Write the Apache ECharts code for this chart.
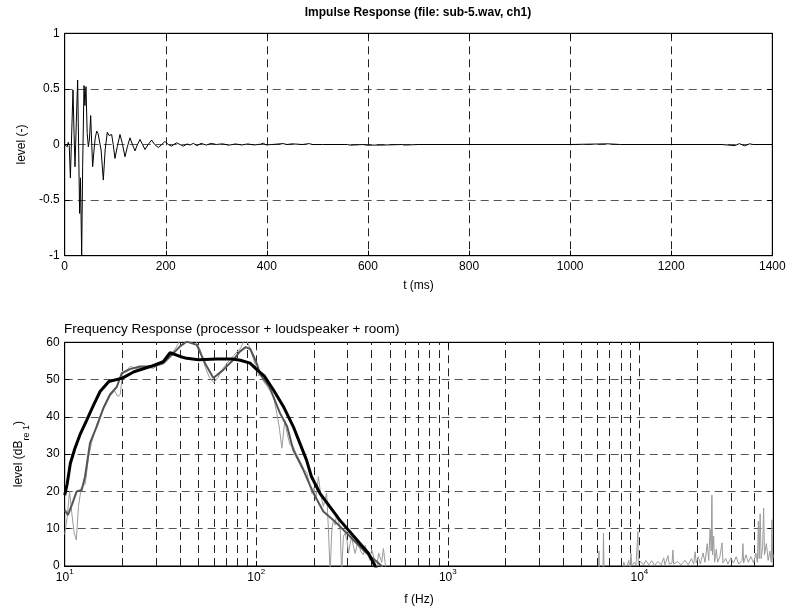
<!DOCTYPE html>
<html>
<head>
<meta charset="utf-8">
<script src="https://cdn.jsdelivr.net/npm/echarts@6/dist/echarts.min.js"></script>
<style>
html, body { margin: 0; padding: 0; background: #fff; }
#chart { width: 790px; height: 612px; }
</style>
</head>
<body>
<div id="chart"></div>
<script>
// impulse response (ms, level)
const impulseT = [
	0, 3, 5, 7, 9, 11.2, 13.5, 16.4, 18.5, 20.4,
	23, 25.6, 27.5, 29.5, 31.2, 33.6, 35.5, 38.2, 40, 42.1,
	44.5, 46.8, 49, 51.4, 53.5, 55.3, 58, 60.5, 63.3, 66,
	68.5, 72, 76.4, 80, 84.3, 88, 92.9, 96, 99.5, 104,
	109.4, 114, 119.3, 124, 129.2, 134, 139.1, 144, 149, 154,
	158.9, 165, 172, 178, 185.2, 192, 198.4, 205, 211.7, 216,
	221.6, 228, 234.7, 242, 248, 254.5, 262, 270, 280, 290,
	300, 312, 325, 338, 350, 362, 375, 388, 393, 398,
	410, 432, 440, 450, 470, 484, 490, 510, 560, 565,
	590, 598, 630, 668, 672, 700, 800, 1000, 1075, 1100,
	1300, 1326, 1335, 1345, 1355, 1362, 1400
];
const impulseLevel = [
	0, 0.01, -0.02, 0.02, -0.01, -0.30, 0.05, 0.49, 0.1, -0.20,
	0.2, 0.58, 0.0, -0.62, -0.3, -1.0, -0.2, 0.53, 0.35, 0.52,
	0.1, -0.02, 0.05, 0.26, 0.0, -0.2, -0.05, 0.06, 0.12, 0.1,
	0.11, -0.05, -0.32, -0.05, 0.11, 0.08, 0.09, 0.0, -0.125, -0.02,
	0.09, 0.01, -0.11, -0.02, 0.06, 0.0, -0.057, 0.0, 0.045, 0.0,
	-0.045, 0.0, 0.04, 0.0, -0.027, 0.0, 0.027, 0.0, -0.015, 0.0,
	0.015, 0.0, -0.015, 0.005, -0.005, 0.01, -0.01, 0.01, -0.005, 0.01,
	0.0, 0.006, -0.006, 0.005, -0.004, 0.005, -0.004, 0.003, 0.012, -0.003,
	0.0, 0.008, 0.0, 0.006, 0.0, 0.008, 0.0, 0.0, 0.0, -0.006,
	0.0, -0.006, -0.005, 0.0, -0.005, 0.0, 0.0, 0.0, 0.006, 0.0,
	0.0, -0.01, 0.008, -0.012, 0.006, 0, 0
];

// frequency response, unsmoothed (Hz, dB)
const freqRaw = [
	10, 10.3, 10.6, 10.9, 11.2, 11.5, 11.8, 12.2, 12.8, 13.3,
	13.8, 14.7, 15.9, 17.2, 18.2, 18.9, 19.5, 20, 21, 22,
	24, 26, 29, 32.7, 35.5, 38, 40, 44, 48, 51,
	54, 57, 60, 63, 67, 72, 78, 83, 86, 89,
	91, 94, 97, 100, 103, 106, 109, 113, 118, 123,
	128, 132, 136, 141, 145, 150, 156, 162, 170, 177,
	183.5, 190, 195, 200, 205, 211, 217, 224, 229, 233,
	238, 243, 248, 253, 258, 263, 268, 274, 279, 285,
	291, 297, 303, 309, 315, 321, 328, 334, 341, 350,
	362, 370, 377, 385, 393, 400, 409, 417, 425, 435,
	443, 452, 461, 470, 480, 6100, 6150, 6200, 6450, 6494,
	6540, 8000, 8300, 8500, 8800, 8950, 9040, 9120, 9400, 9600,
	9780, 9820, 9870, 10200, 10500, 10800, 11200, 11600, 12000, 12500,
	13000, 13400, 13600, 14100, 14300, 14800, 14960, 15100, 15800, 16500,
	17300, 18000, 18700, 19200, 19550, 19800, 20300, 20800, 21500, 22000,
	22600, 23000, 23400, 23700, 23900, 24100, 24400, 24700, 25200, 25600,
	26300, 27000, 27300, 28200, 29000, 30000, 31000, 32000, 33000, 34400,
	34700, 35000, 36000, 37000, 38200, 39500, 40500, 41300, 41800, 42200,
	42700, 43200, 44000, 44500, 45000, 46000, 47000, 48000, 48800, 49200,
	49600, 50000
];
const levelRaw = [
	8.5, 13, 20, 14, 9, 7, 16, 21, 22, 29,
	33, 38, 42, 45.5, 47, 45.5, 46, 51.5, 52.5, 53.5,
	53, 53.5, 53, 55, 56.5, 58.5, 60.5, 61, 60.5, 58,
	53.5, 50.5, 49.2, 50.5, 53, 55, 57, 58.5, 60.3, 60.5,
	59.5, 57.5, 55.3, 53, 51, 52, 49.5, 48.5, 47, 45.5,
	41, 37, 31.6, 39, 35.5, 32.5, 32, 30, 28, 26,
	25, 22, 19.5, 21, 18, 24, 19, 16, 18, 19.5,
	10, -2, 10, 12.3, 11, 14, 12, 10.6, -2, 8,
	8.8, 7, 3.4, 6, 7.9, 5.5, 3.4, 5, 7, 4,
	3, 5.5, 6, 2.5, 1.5, 4.5, 4.3, 1, -1, 3.5,
	3.4, 1, 4.7, 1, -3, -3, 4, -3, -3, 8.8,
	-3, -3, 1, -1, 1.5, -1, 3.4, 0, 1, 0.3,
	0.5, 9.2, 0.5, 1.2, 0.2, 1.5, 0.3, 1.4, 0.2, 1.2,
	0.3, 2.2, 0.3, 2.8, 0.5, 0.8, 4.3, 0.5, 1.2, 0.3,
	1.5, 0.3, 2, 0.5, 3.8, 0.8, 2.5, 0.5, 3.5, 1,
	6, 1.5, 10, 4, 19, 3, 8, 1, 4.5, 1,
	2.5, 6.2, 0.8, 2, 0.5, 2.2, 0.8, 2.5, 0.5, 1.5,
	6, 0.8, 3, 1, 2.5, 0.8, 3.5, 1, 12, 2,
	14, 2, 5, 15.5, 3, 6, 1.5, 4, 1, 12.4,
	2, 3
];

// lightly smoothed
const freqMid = [
	10, 10.4, 10.9, 11.55, 12.27, 12.77, 13.56, 14.69, 15.9, 17.24,
	18.68, 19.85, 21.9, 24.7, 29, 32.7, 35.5, 40, 43.35, 48.9,
	54, 59.7, 67.3, 75.9, 82, 88, 93, 97, 101, 105,
	117, 133, 145, 156, 176, 199, 224, 253, 297, 334,
	377, 425, 451, 480
];
const levelMid = [
	15, 13.7, 16.4, 20, 20.4, 24, 33, 37.4, 42.3, 46,
	48, 51.7, 52.8, 53.5, 53.5, 54.4, 56.2, 58.9, 60.2, 59.3,
	54.4, 50.4, 52.6, 55.3, 57.5, 58.7, 58.2, 56.2, 54, 51.3,
	48.1, 41, 37.4, 31.1, 25.8, 19.5, 14.6, 12.3, 8.8, 6.1,
	3.4, 1.2, 0, -3
];

// heavily smoothed
const freqOct = [
	10, 10.3, 10.7, 11.3, 12.1, 13, 14.1, 15.3, 17, 20,
	23, 28, 32.7, 35.5, 40, 43.35, 50, 62, 75, 82.5,
	92.8, 101, 110, 123, 138.5, 156, 169, 183, 194, 215,
	242, 273, 308, 347, 385, 417, 450
];
const levelOct = [
	19, 22, 27.5, 31.5, 35.6, 39, 43, 46.8, 49.5, 50.4,
	52.1, 53.5, 54.8, 57.2, 56.2, 55.7, 55.3, 55.5, 55.5, 55.2,
	54.4, 52.6, 51, 47.2, 42.8, 37.4, 32.9, 28.4, 24, 19.5,
	15.9, 12.3, 9.2, 6.1, 3.4, 0, -3
];

// grid lines between the decades
const minorFreqTicks = [
	20, 30, 40, 50, 60, 70, 80, 90,
	200, 300, 400, 500, 600, 700, 800, 900,
	2000, 3000, 4000, 5000, 6000, 7000, 8000, 9000,
	20000, 30000, 40000
];

const FONT = '"Liberation Sans", Arial, sans-serif';
const zip = (xs, ys) => xs.map((x, i) => [x, ys[i]]);

const line = { show: true, onZero: false, lineStyle: { color: '#000', width: 1 } };
const tick = { show: true, inside: true, length: 5, lineStyle: { color: '#000' } };
const vGrid = { show: true, lineStyle: { color: '#222', width: 1, type: [8, 5] } };
const hGrid = { show: true, lineStyle: { color: '#555', width: 1, type: [8, 5] } };
const label = { color: '#000', fontFamily: FONT, fontSize: 12, formatter: v => String(v) };
const hidden = { show: false };

// 10^n labels on the log axis
function powerLabel(v) {
	let e = Math.round(Math.log10(v));
	if (Math.abs(Math.pow(10, e) - v) > v * 1e-6) return '';
	return '{b|10}{s|' + e + '}';
}

const chart = echarts.init(document.getElementById('chart'), null, { renderer: 'canvas' });

chart.setOption({
	animation: false,
	backgroundColor: '#fff',
	title: [
		{
			text: 'Impulse Response (file: sub-5.wav, ch1)',
			left: 418, top: 7, padding: 0, textAlign: 'center',
			textStyle: { fontFamily: FONT, fontSize: 12, fontWeight: 'bold', color: '#000' }
		},
		{
			text: 'Frequency Response (processor + loudspeaker + room)',
			left: 64, top: 322, padding: 0,
			textStyle: { fontFamily: FONT, fontSize: 13.5, fontWeight: 'normal', color: '#000' }
		}
	],
	grid: [
		{ left: 64.7, top: 33.3, width: 707.6, height: 222.4, containLabel: false, outerBoundsMode: 'none',
			show: true, borderColor: '#000', borderWidth: 1 },
		{ left: 64.7, top: 342.3, width: 708.6, height: 223.7, containLabel: false, outerBoundsMode: 'none',
			show: true, borderColor: '#000', borderWidth: 1 }
	],
	xAxis: [
		{
			gridIndex: 0, type: 'value', min: 0, max: 1400, interval: 200,
			name: 't (ms)', nameLocation: 'middle', nameGap: 24,
			nameTextStyle: { fontFamily: FONT, fontSize: 12, color: '#000' },
			axisLine: line, axisTick: tick, splitLine: vGrid,
			axisLabel: Object.assign({ margin: 5 }, label)
		},
		{
			gridIndex: 0, type: 'value', min: 0, max: 1400, interval: 200, position: 'top',
			axisLine: line, axisTick: tick, splitLine: hidden, axisLabel: hidden
		},
		{
			gridIndex: 1, type: 'log', logBase: 10, min: 10, max: 50000,
			name: 'f (Hz)', nameLocation: 'middle', nameGap: 28,
			nameTextStyle: { fontFamily: FONT, fontSize: 12, color: '#000' },
			axisLine: line, axisTick: tick, splitLine: vGrid,
			axisLabel: {
				margin: 2, showMaxLabel: false, formatter: powerLabel,
				rich: {
					b: { fontFamily: FONT, fontSize: 12, color: '#000', lineHeight: 16, verticalAlign: 'bottom' },
					s: { fontFamily: FONT, fontSize: 8, color: '#000', lineHeight: 16, verticalAlign: 'top' }
				}
			}
		},
		{
			gridIndex: 1, type: 'log', logBase: 10, min: 10, max: 50000, position: 'top',
			axisLine: line, axisTick: tick, splitLine: hidden, axisLabel: hidden
		}
	],
	yAxis: [
		{
			gridIndex: 0, type: 'value', min: -1, max: 1, interval: 0.5,
			name: 'level (-)', nameLocation: 'middle', nameGap: 37,
			nameTextStyle: { fontFamily: FONT, fontSize: 12, color: '#000' },
			axisLine: line, axisTick: tick, splitLine: hGrid,
			axisLabel: Object.assign({ margin: 5 }, label)
		},
		{
			gridIndex: 0, type: 'value', min: -1, max: 1, interval: 0.5, position: 'right',
			axisLine: line, axisTick: tick, splitLine: hidden, axisLabel: hidden
		},
		{
			gridIndex: 1, type: 'value', min: 0, max: 60, interval: 10,
			name: '{a|level (dB}{s|re 1}{a|)}', nameLocation: 'middle', nameGap: 34,
			nameTextStyle: {
				rich: {
					a: { fontFamily: FONT, fontSize: 12, color: '#000', lineHeight: 18, verticalAlign: 'top' },
					s: { fontFamily: FONT, fontSize: 9, color: '#000', lineHeight: 18, verticalAlign: 'bottom' }
				}
			},
			axisLine: line, axisTick: tick, splitLine: hGrid,
			axisLabel: Object.assign({ margin: 5 }, label)
		},
		{
			gridIndex: 1, type: 'value', min: 0, max: 60, interval: 10, position: 'right',
			axisLine: line, axisTick: tick, splitLine: hidden, axisLabel: hidden
		}
	],
	series: [
		{
			type: 'line', xAxisIndex: 0, yAxisIndex: 0, data: zip(impulseT, impulseLevel),
			showSymbol: false, silent: true, z: 3,
			lineStyle: { color: '#000', width: 1 }
		},
		{
			type: 'line', xAxisIndex: 2, yAxisIndex: 2, data: zip(freqRaw, levelRaw),
			showSymbol: false, silent: true, z: 3,
			lineStyle: { color: '#9a9a9a', width: 1 },
			markLine: {
				silent: true, symbol: 'none', z: 1, animation: false,
				label: { show: false },
				lineStyle: { color: '#222', width: 1, type: [8, 5] },
				data: minorFreqTicks.map(f => ({ xAxis: f }))
			}
		},
		{
			type: 'line', xAxisIndex: 2, yAxisIndex: 2, data: zip(freqMid, levelMid),
			showSymbol: false, silent: true, z: 4,
			lineStyle: { color: '#555', width: 2 }
		},
		{
			type: 'line', xAxisIndex: 2, yAxisIndex: 2, data: zip(freqOct, levelOct),
			showSymbol: false, silent: true, z: 5,
			lineStyle: { color: '#000', width: 3 }
		}
	]
});
</script>
</body>
</html>
